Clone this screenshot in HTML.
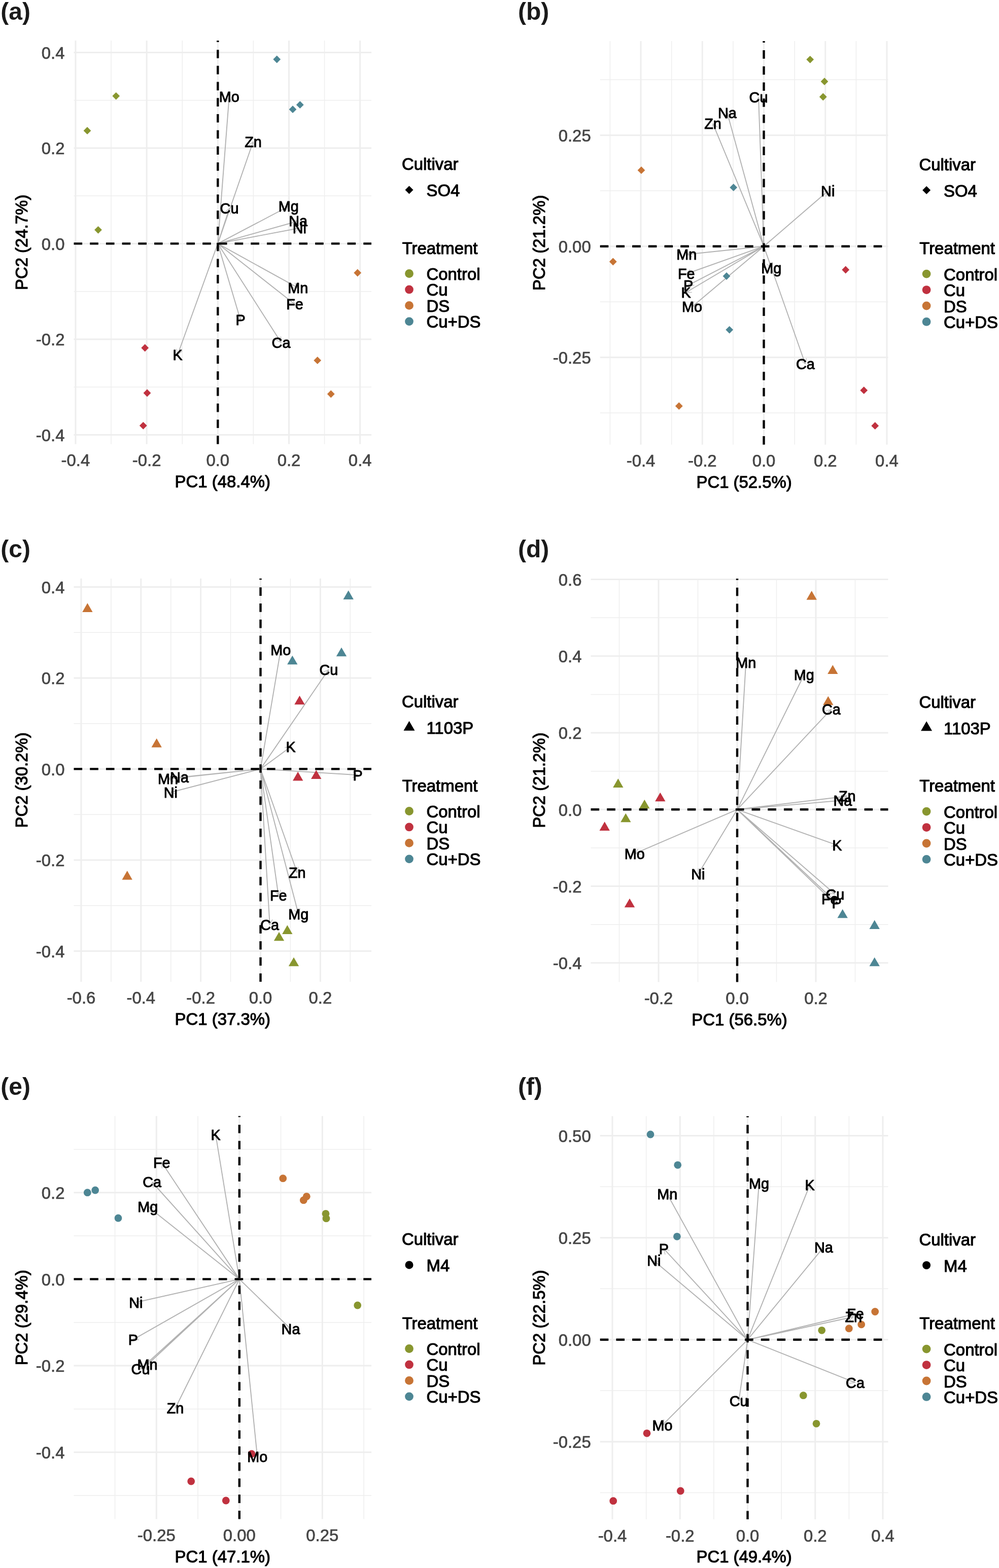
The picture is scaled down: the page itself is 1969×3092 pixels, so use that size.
<!DOCTYPE html>
<html lang="en">
<head>
<meta charset="utf-8">
<title>PCA biplots</title>
<style>
html,body{margin:0;padding:0;background:#fff;}
body{width:1969px;height:3092px;overflow:hidden;}
svg{display:block;font-family:"Liberation Sans",Arial,Helvetica,sans-serif;}
text{stroke-width:1.1px;stroke-linejoin:round;}
.tk text{stroke-width:0.7px;}
.lb text{stroke-width:1px;}
</style>
</head>
<body>
<svg width="1969" height="3092" viewBox="0 0 1969 3092">
<rect width="1969" height="3092" fill="#fff"/>
<g>
<text x="1.3" y="39.1" font-size="48" font-weight="bold" fill="#1a1a1a" stroke="none">(a)</text>
<path d="M219 80V875.8M359.2 80V875.8M499.4 80V875.8M639.6 80V875.8M145.5 197.65H732M145.5 386.15H732M145.5 574.65H732M145.5 763.15H732" stroke="#EEEEEE" stroke-width="1.5" fill="none"/>
<path d="M148.9 80V875.8M289.1 80V875.8M429.3 80V875.8M569.5 80V875.8M709.7 80V875.8M145.5 103.4H732M145.5 291.9H732M145.5 480.4H732M145.5 668.9H732M145.5 857.4H732" stroke="#EEEEEE" stroke-width="3.0" fill="none"/>
<path d="M429.3 480.4L451.7 191M429.3 480.4L499 279.3M429.3 480.4L452 411M429.3 480.4L568.7 407M429.3 480.4L587.7 436M429.3 480.4L590.3 449.7M429.3 480.4L587.3 567.7M429.3 480.4L581 600M429.3 480.4L474 631M429.3 480.4L554 675.3M429.3 480.4L350 699.7" stroke="#B2B2B2" stroke-width="1.9" fill="none"/>
<path d="M456.79 201.64L451.7 191M445.03 200.73L451.7 191M501.23 290.89L499 279.3M490.08 287.02L499 279.3M454.43 422.55L452 411M443.22 418.88L452 411M562.41 416.98L568.7 407M556.91 406.54L568.7 407M579.45 444.44L587.7 436M576.27 433.08L587.7 436M581.37 457.41L590.3 449.7M579.16 445.82L590.3 449.7M575.5 567.92L587.3 567.7M581.21 557.59L587.3 567.7M569.32 598.31L581 600M576.63 589.04L581 600M465.44 622.88L474 631M476.75 619.52L474 631M543.52 669.87L554 675.3M553.46 663.51L554 675.3M347.93 688.08L350 699.7M359.02 692.1L350 699.7" stroke="#C2C2C2" stroke-width="1.4" fill="none"/>
<path d="M145.5 480.4H732M429.3 875.8V80" stroke="#000" stroke-width="4.4" stroke-dasharray="16.6 15.11" fill="none"/>
<path d="M228.7 181.9L236.1 189.3L228.7 196.7L221.3 189.3Z" fill="#88962F" stroke="none"/>
<path d="M172 250.3L179.4 257.7L172 265.1L164.6 257.7Z" fill="#88962F" stroke="none"/>
<path d="M193.5 445.9L200.9 453.3L193.5 460.7L186.1 453.3Z" fill="#88962F" stroke="none"/>
<path d="M545.7 109.6L553.1 117L545.7 124.4L538.3 117Z" fill="#4D8694" stroke="none"/>
<path d="M591.3 199.3L598.7 206.7L591.3 214.1L583.9 206.7Z" fill="#4D8694" stroke="none"/>
<path d="M577 208.3L584.4 215.7L577 223.1L569.6 215.7Z" fill="#4D8694" stroke="none"/>
<path d="M704.7 530.6L712.1 538L704.7 545.4L697.3 538Z" fill="#C77435" stroke="none"/>
<path d="M625.7 703.3L633.1 710.7L625.7 718.1L618.3 710.7Z" fill="#C77435" stroke="none"/>
<path d="M652.3 769.6L659.7 777L652.3 784.4L644.9 777Z" fill="#C77435" stroke="none"/>
<path d="M285.7 678.6L293.1 686L285.7 693.4L278.3 686Z" fill="#C0313F" stroke="none"/>
<path d="M290 767.6L297.4 775L290 782.4L282.6 775Z" fill="#C0313F" stroke="none"/>
<path d="M282.3 831.9L289.7 839.3L282.3 846.7L274.9 839.3Z" fill="#C0313F" stroke="none"/>
<g class="lb" font-size="28.8" text-anchor="middle" fill="#000" stroke="#000">
<text transform="translate(451.7 201.3) scale(1 1.035)">Mo</text>
<text transform="translate(499 289.6) scale(1 1.035)">Zn</text>
<text transform="translate(452 421.3) scale(1 1.035)">Cu</text>
<text transform="translate(568.7 417.3) scale(1 1.035)">Mg</text>
<text transform="translate(587.7 446.3) scale(1 1.035)">Na</text>
<text transform="translate(590.3 460) scale(1 1.035)">Ni</text>
<text transform="translate(587.3 578) scale(1 1.035)">Mn</text>
<text transform="translate(581 610.3) scale(1 1.035)">Fe</text>
<text transform="translate(474 641.3) scale(1 1.035)">P</text>
<text transform="translate(554 685.6) scale(1 1.035)">Ca</text>
<text transform="translate(350 710) scale(1 1.035)">K</text>
</g>
<g class="tk" font-size="32.9" fill="#464646" stroke="#464646">
<g text-anchor="end">
<text transform="translate(127.5 115.7) scale(1 1.035)">0.4</text>
<text transform="translate(127.5 304.2) scale(1 1.035)">0.2</text>
<text transform="translate(127.5 492.7) scale(1 1.035)">0.0</text>
<text transform="translate(127.5 681.2) scale(1 1.035)">-0.2</text>
<text transform="translate(127.5 869.7) scale(1 1.035)">-0.4</text>
</g><g text-anchor="middle">
<text transform="translate(148.9 919.4) scale(1 1.035)">-0.4</text>
<text transform="translate(289.1 919.4) scale(1 1.035)">-0.2</text>
<text transform="translate(429.3 919.4) scale(1 1.035)">0.0</text>
<text transform="translate(569.5 919.4) scale(1 1.035)">0.2</text>
<text transform="translate(709.7 919.4) scale(1 1.035)">0.4</text>
</g></g>
<g font-size="32.9" fill="#000" stroke="#000" text-anchor="middle">
<text transform="translate(438.75 961.2) scale(1 1.035)">PC1 (48.4%)</text>
<text transform="translate(53.9 477.9) rotate(-90) scale(1 1.035)">PC2 (24.7%)</text>
</g>
<g font-size="32.9" fill="#000" stroke="#000">
<text transform="translate(791.9 335.4) scale(1 1.035)">Cultivar</text>
<path d="M806.5 366.4L814.5 374.4L806.5 382.4L798.5 374.4Z" fill="#000" stroke="none"/>
<text transform="translate(840.5 387) scale(1 1.035)">SO4</text>
<text transform="translate(792.7 500.5) scale(1 1.035)">Treatment</text>
<circle cx="806.5" cy="539.5" r="8.4" fill="#88962F" stroke="none"/>
<text transform="translate(840.5 552) scale(1 1.035)">Control</text>
<circle cx="806.5" cy="570.95" r="8.4" fill="#C0313F" stroke="none"/>
<text transform="translate(840.5 583.45) scale(1 1.035)">Cu</text>
<circle cx="806.5" cy="602.4" r="8.4" fill="#C77435" stroke="none"/>
<text transform="translate(840.5 614.9) scale(1 1.035)">DS</text>
<circle cx="806.5" cy="633.85" r="8.4" fill="#4D8694" stroke="none"/>
<text transform="translate(840.5 646.35) scale(1 1.035)">Cu+DS</text>
</g>
</g>
<g>
<text x="1020.9" y="39.1" font-size="48" font-weight="bold" fill="#1a1a1a" stroke="none">(b)</text>
<path d="M1202.4 80.9V876.7M1323.64 80.9V876.7M1444.88 80.9V876.7M1566.12 80.9V876.7M1687.36 80.9V876.7M1182.7 157.2H1750.5M1182.7 376.2H1750.5M1182.7 595.2H1750.5M1182.7 814.2H1750.5" stroke="#EEEEEE" stroke-width="1.5" fill="none"/>
<path d="M1263.02 80.9V876.7M1384.26 80.9V876.7M1505.5 80.9V876.7M1626.74 80.9V876.7M1747.98 80.9V876.7M1182.7 266.7H1750.5M1182.7 485.7H1750.5M1182.7 704.7H1750.5" stroke="#EEEEEE" stroke-width="3.0" fill="none"/>
<path d="M1505.5 485.7L1495 192M1505.5 485.7L1433.3 222.3M1505.5 485.7L1405 243.7M1505.5 485.7L1631.7 376.7M1505.5 485.7L1353.3 501.7M1505.5 485.7L1352.7 540M1505.5 485.7L1356.7 562.3M1505.5 485.7L1352 576.7M1505.5 485.7L1364 605M1505.5 485.7L1520.3 528.3M1505.5 485.7L1587.3 718" stroke="#B2B2B2" stroke-width="1.9" fill="none"/>
<path d="M1501.26 202L1495 192M1489.47 202.42L1495 192M1441.69 230.6L1433.3 222.3M1430.31 233.72L1433.3 222.3M1414.37 250.87L1405 243.7M1403.47 255.4L1405 243.7M1627.82 387.84L1631.7 376.7M1620.11 378.91L1631.7 376.7M1362.85 494.76L1353.3 501.7M1364.08 506.5L1353.3 501.7M1360.35 531.02L1352.7 540M1364.3 542.14L1352.7 540M1363.09 552.38L1356.7 562.3M1368.49 562.87L1356.7 562.3M1357.78 566.41L1352 576.7M1363.8 576.56L1352 576.7M1368.01 593.9L1364 605M1375.62 602.92L1364 605M1511.37 520.58L1520.3 528.3M1522.52 516.71L1520.3 528.3M1578.34 710.32L1587.3 718M1589.47 706.4L1587.3 718" stroke="#C2C2C2" stroke-width="1.4" fill="none"/>
<path d="M1182.7 485.7H1750.5M1505.5 876.7V80.9" stroke="#000" stroke-width="4.4" stroke-dasharray="16.6 15.11" fill="none"/>
<path d="M1264 328.3L1271.4 335.7L1264 343.1L1256.6 335.7Z" fill="#C77435" stroke="none"/>
<path d="M1208.3 508.6L1215.7 516L1208.3 523.4L1200.9 516Z" fill="#C77435" stroke="none"/>
<path d="M1338.3 793.3L1345.7 800.7L1338.3 808.1L1330.9 800.7Z" fill="#C77435" stroke="none"/>
<path d="M1445.7 362.3L1453.1 369.7L1445.7 377.1L1438.3 369.7Z" fill="#4D8694" stroke="none"/>
<path d="M1432 537.1L1439.4 544.5L1432 551.9L1424.6 544.5Z" fill="#4D8694" stroke="none"/>
<path d="M1437.7 642.9L1445.1 650.3L1437.7 657.7L1430.3 650.3Z" fill="#4D8694" stroke="none"/>
<path d="M1596.7 109.9L1604.1 117.3L1596.7 124.7L1589.3 117.3Z" fill="#88962F" stroke="none"/>
<path d="M1625 153.3L1632.4 160.7L1625 168.1L1617.6 160.7Z" fill="#88962F" stroke="none"/>
<path d="M1622.3 183.6L1629.7 191L1622.3 198.4L1614.9 191Z" fill="#88962F" stroke="none"/>
<path d="M1666.7 524.6L1674.1 532L1666.7 539.4L1659.3 532Z" fill="#C0313F" stroke="none"/>
<path d="M1702.7 762.3L1710.1 769.7L1702.7 777.1L1695.3 769.7Z" fill="#C0313F" stroke="none"/>
<path d="M1724.7 832.3L1732.1 839.7L1724.7 847.1L1717.3 839.7Z" fill="#C0313F" stroke="none"/>
<g class="lb" font-size="28.8" text-anchor="middle" fill="#000" stroke="#000">
<text transform="translate(1495 202.3) scale(1 1.035)">Cu</text>
<text transform="translate(1433.3 232.6) scale(1 1.035)">Na</text>
<text transform="translate(1405 254) scale(1 1.035)">Zn</text>
<text transform="translate(1631.7 387) scale(1 1.035)">Ni</text>
<text transform="translate(1353.3 512) scale(1 1.035)">Mn</text>
<text transform="translate(1352.7 550.3) scale(1 1.035)">Fe</text>
<text transform="translate(1356.7 572.6) scale(1 1.035)">P</text>
<text transform="translate(1352 587) scale(1 1.035)">K</text>
<text transform="translate(1364 615.3) scale(1 1.035)">Mo</text>
<text transform="translate(1520.3 538.6) scale(1 1.035)">Mg</text>
<text transform="translate(1587.3 728.3) scale(1 1.035)">Ca</text>
</g>
<g class="tk" font-size="32.9" fill="#464646" stroke="#464646">
<g text-anchor="end">
<text transform="translate(1164.7 279) scale(1 1.035)">0.25</text>
<text transform="translate(1164.7 498) scale(1 1.035)">0.00</text>
<text transform="translate(1164.7 717) scale(1 1.035)">-0.25</text>
</g><g text-anchor="middle">
<text transform="translate(1263.02 920.1) scale(1 1.035)">-0.4</text>
<text transform="translate(1384.26 920.1) scale(1 1.035)">-0.2</text>
<text transform="translate(1505.5 920.1) scale(1 1.035)">0.0</text>
<text transform="translate(1626.74 920.1) scale(1 1.035)">0.2</text>
<text transform="translate(1747.98 920.1) scale(1 1.035)">0.4</text>
</g></g>
<g font-size="32.9" fill="#000" stroke="#000" text-anchor="middle">
<text transform="translate(1466.6 961.7) scale(1 1.035)">PC1 (52.5%)</text>
<text transform="translate(1073.5 478.8) rotate(-90) scale(1 1.035)">PC2 (21.2%)</text>
</g>
<g font-size="32.9" fill="#000" stroke="#000">
<text transform="translate(1811.5 336) scale(1 1.035)">Cultivar</text>
<path d="M1826.1 367L1834.1 375L1826.1 383L1818.1 375Z" fill="#000" stroke="none"/>
<text transform="translate(1860.1 387.6) scale(1 1.035)">SO4</text>
<text transform="translate(1812.3 501.1) scale(1 1.035)">Treatment</text>
<circle cx="1826.1" cy="540.1" r="8.4" fill="#88962F" stroke="none"/>
<text transform="translate(1860.1 552.6) scale(1 1.035)">Control</text>
<circle cx="1826.1" cy="571.55" r="8.4" fill="#C0313F" stroke="none"/>
<text transform="translate(1860.1 584.05) scale(1 1.035)">Cu</text>
<circle cx="1826.1" cy="603" r="8.4" fill="#C77435" stroke="none"/>
<text transform="translate(1860.1 615.5) scale(1 1.035)">DS</text>
<circle cx="1826.1" cy="634.45" r="8.4" fill="#4D8694" stroke="none"/>
<text transform="translate(1860.1 646.95) scale(1 1.035)">Cu+DS</text>
</g>
</g>
<g>
<text x="1.3" y="1099.1" font-size="48" font-weight="bold" fill="#1a1a1a" stroke="none">(c)</text>
<path d="M218.9 1140.8V1936M336.74 1140.8V1936M454.58 1140.8V1936M572.42 1140.8V1936M690.26 1140.8V1936M145.5 1247.15H732M145.5 1426.65H732M145.5 1606.15H732M145.5 1785.65H732" stroke="#EEEEEE" stroke-width="1.5" fill="none"/>
<path d="M159.98 1140.8V1936M277.82 1140.8V1936M395.66 1140.8V1936M513.5 1140.8V1936M631.34 1140.8V1936M145.5 1157.4H732M145.5 1336.9H732M145.5 1516.4H732M145.5 1695.9H732M145.5 1875.4H732" stroke="#EEEEEE" stroke-width="3.0" fill="none"/>
<path d="M513.5 1516.4L553.2 1281.7M513.5 1516.4L647.8 1320.3M513.5 1516.4L573 1472.7M513.5 1516.4L705 1528.3M513.5 1516.4L331 1536M513.5 1516.4L353.5 1533M513.5 1516.4L336.3 1562.5M513.5 1516.4L585.8 1721M513.5 1516.4L548.7 1765.7M513.5 1516.4L588.3 1802.7M513.5 1516.4L531.7 1823.7" stroke="#B2B2B2" stroke-width="1.9" fill="none"/>
<path d="M557.31 1292.76L553.2 1281.7M545.68 1290.79L553.2 1281.7M646.89 1332.07L647.8 1320.3M637.16 1325.4L647.8 1320.3M568.26 1483.5L573 1472.7M561.27 1473.99L573 1472.7M694.43 1533.55L705 1528.3M695.17 1521.78L705 1528.3M340.53 1529.04L331 1536M341.79 1540.78L331 1536M363.06 1526.08L353.5 1533M364.27 1537.81L353.5 1533M344.7 1554.22L336.3 1562.5M347.68 1565.64L336.3 1562.5M576.83 1713.33L585.8 1721M587.96 1709.4L585.8 1721M541.43 1756.41L548.7 1765.7M553.11 1754.76L548.7 1765.7M580.01 1794.3L588.3 1802.7M591.43 1791.32L588.3 1802.7M525.21 1813.85L531.7 1823.7M536.99 1813.15L531.7 1823.7" stroke="#C2C2C2" stroke-width="1.4" fill="none"/>
<path d="M145.5 1516.4H732M513.5 1936V1140.8" stroke="#000" stroke-width="4.4" stroke-dasharray="16.6 15.11" fill="none"/>
<path d="M172.4 1189.33L182.59 1206.98L162.21 1206.98Z" fill="#C77435" stroke="none"/>
<path d="M308.7 1456.03L318.89 1473.68L298.51 1473.68Z" fill="#C77435" stroke="none"/>
<path d="M250.7 1717.03L260.89 1734.68L240.51 1734.68Z" fill="#C77435" stroke="none"/>
<path d="M686.7 1164.33L696.89 1181.98L676.51 1181.98Z" fill="#4D8694" stroke="none"/>
<path d="M673 1276.63L683.19 1294.28L662.81 1294.28Z" fill="#4D8694" stroke="none"/>
<path d="M576.3 1292.63L586.49 1310.28L566.11 1310.28Z" fill="#4D8694" stroke="none"/>
<path d="M590.5 1371.63L600.69 1389.28L580.31 1389.28Z" fill="#C0313F" stroke="none"/>
<path d="M587.2 1521.83L597.39 1539.48L577.01 1539.48Z" fill="#C0313F" stroke="none"/>
<path d="M623.2 1518.43L633.39 1536.08L613.01 1536.08Z" fill="#C0313F" stroke="none"/>
<path d="M566.3 1824.33L576.49 1841.98L556.11 1841.98Z" fill="#88962F" stroke="none"/>
<path d="M550 1837.63L560.19 1855.28L539.81 1855.28Z" fill="#88962F" stroke="none"/>
<path d="M579 1887.63L589.19 1905.28L568.81 1905.28Z" fill="#88962F" stroke="none"/>
<g class="lb" font-size="28.8" text-anchor="middle" fill="#000" stroke="#000">
<text transform="translate(553.2 1292) scale(1 1.035)">Mo</text>
<text transform="translate(647.8 1330.6) scale(1 1.035)">Cu</text>
<text transform="translate(573 1483) scale(1 1.035)">K</text>
<text transform="translate(705 1538.6) scale(1 1.035)">P</text>
<text transform="translate(331 1546.3) scale(1 1.035)">Mn</text>
<text transform="translate(353.5 1543.3) scale(1 1.035)">Na</text>
<text transform="translate(336.3 1572.8) scale(1 1.035)">Ni</text>
<text transform="translate(585.8 1731.3) scale(1 1.035)">Zn</text>
<text transform="translate(548.7 1776) scale(1 1.035)">Fe</text>
<text transform="translate(588.3 1813) scale(1 1.035)">Mg</text>
<text transform="translate(531.7 1834) scale(1 1.035)">Ca</text>
</g>
<g class="tk" font-size="32.9" fill="#464646" stroke="#464646">
<g text-anchor="end">
<text transform="translate(127.5 1169.7) scale(1 1.035)">0.4</text>
<text transform="translate(127.5 1349.2) scale(1 1.035)">0.2</text>
<text transform="translate(127.5 1528.7) scale(1 1.035)">0.0</text>
<text transform="translate(127.5 1708.2) scale(1 1.035)">-0.2</text>
<text transform="translate(127.5 1887.7) scale(1 1.035)">-0.4</text>
</g><g text-anchor="middle">
<text transform="translate(159.98 1979.4) scale(1 1.035)">-0.6</text>
<text transform="translate(277.82 1979.4) scale(1 1.035)">-0.4</text>
<text transform="translate(395.66 1979.4) scale(1 1.035)">-0.2</text>
<text transform="translate(513.5 1979.4) scale(1 1.035)">0.0</text>
<text transform="translate(631.34 1979.4) scale(1 1.035)">0.2</text>
</g></g>
<g font-size="32.9" fill="#000" stroke="#000" text-anchor="middle">
<text transform="translate(438.75 2021.2) scale(1 1.035)">PC1 (37.3%)</text>
<text transform="translate(53.9 1538.4) rotate(-90) scale(1 1.035)">PC2 (30.2%)</text>
</g>
<g font-size="32.9" fill="#000" stroke="#000">
<text transform="translate(791.9 1395.4) scale(1 1.035)">Cultivar</text>
<path d="M806.5 1421.68L817.52 1440.76L795.48 1440.76Z" fill="#000" stroke="none"/>
<text transform="translate(840.5 1447) scale(1 1.035)">1103P</text>
<text transform="translate(792.7 1560.5) scale(1 1.035)">Treatment</text>
<circle cx="806.5" cy="1599.5" r="8.4" fill="#88962F" stroke="none"/>
<text transform="translate(840.5 1612) scale(1 1.035)">Control</text>
<circle cx="806.5" cy="1630.95" r="8.4" fill="#C0313F" stroke="none"/>
<text transform="translate(840.5 1643.45) scale(1 1.035)">Cu</text>
<circle cx="806.5" cy="1662.4" r="8.4" fill="#C77435" stroke="none"/>
<text transform="translate(840.5 1674.9) scale(1 1.035)">DS</text>
<circle cx="806.5" cy="1693.85" r="8.4" fill="#4D8694" stroke="none"/>
<text transform="translate(840.5 1706.35) scale(1 1.035)">Cu+DS</text>
</g>
</g>
<g>
<text x="1020.9" y="1099.1" font-size="48" font-weight="bold" fill="#1a1a1a" stroke="none">(d)</text>
<path d="M1220.5 1141V1936.4M1375.5 1141V1936.4M1530.5 1141V1936.4M1685.5 1141V1936.4M1164.5 1218.1H1750.5M1164.5 1369.38H1750.5M1164.5 1520.66H1750.5M1164.5 1671.94H1750.5M1164.5 1823.22H1750.5" stroke="#EEEEEE" stroke-width="1.5" fill="none"/>
<path d="M1298 1141V1936.4M1453 1141V1936.4M1608 1141V1936.4M1164.5 1142.46H1750.5M1164.5 1293.74H1750.5M1164.5 1445.02H1750.5M1164.5 1596.3H1750.5M1164.5 1747.58H1750.5M1164.5 1898.86H1750.5" stroke="#EEEEEE" stroke-width="3.0" fill="none"/>
<path d="M1453 1596.3L1470.2 1306.2M1453 1596.3L1584.7 1331M1453 1596.3L1638.3 1398.7M1453 1596.3L1669.8 1570M1453 1596.3L1660.8 1578.3M1453 1596.3L1649.8 1666.7M1453 1596.3L1645.8 1763.3M1453 1596.3L1635.7 1772.3M1453 1596.3L1649 1780.3M1453 1596.3L1250.8 1683.3M1453 1596.3L1375.8 1724" stroke="#B2B2B2" stroke-width="1.9" fill="none"/>
<path d="M1475.48 1316.75L1470.2 1306.2M1463.71 1316.05L1470.2 1306.2M1585.44 1342.78L1584.7 1331M1574.87 1337.53L1584.7 1331M1635.61 1410.19L1638.3 1398.7M1627.01 1402.12L1638.3 1398.7M1660.37 1577.09L1669.8 1570M1658.94 1565.37L1669.8 1570M1651.13 1585.06L1660.8 1578.3M1650.11 1573.3L1660.8 1578.3M1638.19 1668.81L1649.8 1666.7M1642.17 1657.7L1649.8 1666.7M1634.21 1761.07L1645.8 1763.3M1641.94 1752.15L1645.8 1763.3M1624.25 1769.46L1635.7 1772.3M1632.43 1760.96L1635.7 1772.3M1637.51 1777.61L1649 1780.3M1645.59 1769L1649 1780.3M1257.86 1673.84L1250.8 1683.3M1262.52 1684.68L1250.8 1683.3M1376.04 1712.2L1375.8 1724M1386.14 1718.31L1375.8 1724" stroke="#C2C2C2" stroke-width="1.4" fill="none"/>
<path d="M1164.5 1596.3H1750.5M1453 1936.4V1141" stroke="#000" stroke-width="4.4" stroke-dasharray="16.6 15.11" fill="none"/>
<path d="M1599.7 1165.03L1609.89 1182.68L1589.51 1182.68Z" fill="#C77435" stroke="none"/>
<path d="M1641.3 1311.33L1651.49 1328.98L1631.11 1328.98Z" fill="#C77435" stroke="none"/>
<path d="M1632.3 1372.63L1642.49 1390.28L1622.11 1390.28Z" fill="#C77435" stroke="none"/>
<path d="M1218.3 1535.33L1228.49 1552.98L1208.11 1552.98Z" fill="#88962F" stroke="none"/>
<path d="M1270.3 1576.63L1280.49 1594.28L1260.11 1594.28Z" fill="#88962F" stroke="none"/>
<path d="M1233.3 1603.63L1243.49 1621.28L1223.11 1621.28Z" fill="#88962F" stroke="none"/>
<path d="M1301.3 1562.63L1311.49 1580.28L1291.11 1580.28Z" fill="#C0313F" stroke="none"/>
<path d="M1191.7 1620.33L1201.89 1637.98L1181.51 1637.98Z" fill="#C0313F" stroke="none"/>
<path d="M1241 1771.63L1251.19 1789.28L1230.81 1789.28Z" fill="#C0313F" stroke="none"/>
<path d="M1660.7 1792.63L1670.89 1810.28L1650.51 1810.28Z" fill="#4D8694" stroke="none"/>
<path d="M1723.7 1814.33L1733.89 1831.98L1713.51 1831.98Z" fill="#4D8694" stroke="none"/>
<path d="M1723.7 1887.63L1733.89 1905.28L1713.51 1905.28Z" fill="#4D8694" stroke="none"/>
<g class="lb" font-size="28.8" text-anchor="middle" fill="#000" stroke="#000">
<text transform="translate(1470.2 1316.5) scale(1 1.035)">Mn</text>
<text transform="translate(1584.7 1341.3) scale(1 1.035)">Mg</text>
<text transform="translate(1638.3 1409) scale(1 1.035)">Ca</text>
<text transform="translate(1669.8 1580.3) scale(1 1.035)">Zn</text>
<text transform="translate(1660.8 1588.6) scale(1 1.035)">Na</text>
<text transform="translate(1649.8 1677) scale(1 1.035)">K</text>
<text transform="translate(1645.8 1773.6) scale(1 1.035)">Cu</text>
<text transform="translate(1635.7 1782.6) scale(1 1.035)">Fe</text>
<text transform="translate(1649 1790.6) scale(1 1.035)">P</text>
<text transform="translate(1250.8 1693.6) scale(1 1.035)">Mo</text>
<text transform="translate(1375.8 1734.3) scale(1 1.035)">Ni</text>
</g>
<g class="tk" font-size="32.9" fill="#464646" stroke="#464646">
<g text-anchor="end">
<text transform="translate(1146.5 1154.76) scale(1 1.035)">0.6</text>
<text transform="translate(1146.5 1306.04) scale(1 1.035)">0.4</text>
<text transform="translate(1146.5 1457.32) scale(1 1.035)">0.2</text>
<text transform="translate(1146.5 1608.6) scale(1 1.035)">0.0</text>
<text transform="translate(1146.5 1759.88) scale(1 1.035)">-0.2</text>
<text transform="translate(1146.5 1911.16) scale(1 1.035)">-0.4</text>
</g><g text-anchor="middle">
<text transform="translate(1298 1980.1) scale(1 1.035)">-0.2</text>
<text transform="translate(1453 1980.1) scale(1 1.035)">0.0</text>
<text transform="translate(1608 1980.1) scale(1 1.035)">0.2</text>
</g></g>
<g font-size="32.9" fill="#000" stroke="#000" text-anchor="middle">
<text transform="translate(1457.5 2021.7) scale(1 1.035)">PC1 (56.5%)</text>
<text transform="translate(1073.5 1538.7) rotate(-90) scale(1 1.035)">PC2 (21.2%)</text>
</g>
<g font-size="32.9" fill="#000" stroke="#000">
<text transform="translate(1811.5 1396) scale(1 1.035)">Cultivar</text>
<path d="M1826.1 1422.28L1837.12 1441.36L1815.08 1441.36Z" fill="#000" stroke="none"/>
<text transform="translate(1860.1 1447.6) scale(1 1.035)">1103P</text>
<text transform="translate(1812.3 1561.1) scale(1 1.035)">Treatment</text>
<circle cx="1826.1" cy="1600.1" r="8.4" fill="#88962F" stroke="none"/>
<text transform="translate(1860.1 1612.6) scale(1 1.035)">Control</text>
<circle cx="1826.1" cy="1631.55" r="8.4" fill="#C0313F" stroke="none"/>
<text transform="translate(1860.1 1644.05) scale(1 1.035)">Cu</text>
<circle cx="1826.1" cy="1663" r="8.4" fill="#C77435" stroke="none"/>
<text transform="translate(1860.1 1675.5) scale(1 1.035)">DS</text>
<circle cx="1826.1" cy="1694.45" r="8.4" fill="#4D8694" stroke="none"/>
<text transform="translate(1860.1 1706.95) scale(1 1.035)">Cu+DS</text>
</g>
</g>
<g>
<text x="1.3" y="2159.1" font-size="48" font-weight="bold" fill="#1a1a1a" stroke="none">(e)</text>
<path d="M226.55 2200.8V2995.6M390.05 2200.8V2995.6M553.55 2200.8V2995.6M717.05 2200.8V2995.6M145.5 2266.38H732M145.5 2437.06H732M145.5 2607.74H732M145.5 2778.42H732M145.5 2949.1H732" stroke="#EEEEEE" stroke-width="1.5" fill="none"/>
<path d="M308.3 2200.8V2995.6M471.8 2200.8V2995.6M635.3 2200.8V2995.6M145.5 2351.72H732M145.5 2522.4H732M145.5 2693.08H732M145.5 2863.76H732" stroke="#EEEEEE" stroke-width="3.0" fill="none"/>
<path d="M471.8 2522.4L425 2237.3M471.8 2522.4L318.7 2292.3M471.8 2522.4L299.7 2331M471.8 2522.4L291.3 2379.3M471.8 2522.4L267.8 2568.3M471.8 2522.4L262.3 2641.7M471.8 2522.4L290.5 2691M471.8 2522.4L277 2699.7M471.8 2522.4L345.5 2777M471.8 2522.4L507.2 2873M471.8 2522.4L573 2620.7" stroke="#B2B2B2" stroke-width="1.9" fill="none"/>
<path d="M432.48 2246.43L425 2237.3M420.83 2248.34L425 2237.3M329.27 2297.54L318.7 2292.3M319.45 2304.08L318.7 2292.3M310.92 2334.65L299.7 2331M302.15 2342.54L299.7 2331M302.97 2381.03L291.3 2379.3M295.64 2390.27L291.3 2379.3M276.47 2560.3L267.8 2568.3M279.06 2571.81L267.8 2568.3M268.26 2631.52L262.3 2641.7M274.1 2641.77L262.3 2641.7M293.97 2679.72L290.5 2691M302 2688.36L290.5 2691M280.59 2688.46L277 2699.7M288.53 2697.18L277 2699.7M344.76 2765.22L345.5 2777M355.33 2770.47L345.5 2777M500.3 2863.43L507.2 2873M512.04 2862.24L507.2 2873M561.56 2617.81L573 2620.7M569.78 2609.35L573 2620.7" stroke="#C2C2C2" stroke-width="1.4" fill="none"/>
<path d="M145.5 2522.4H732M471.8 2995.6V2200.8" stroke="#000" stroke-width="4.4" stroke-dasharray="16.6 15.11" fill="none"/>
<circle cx="172.3" cy="2351.7" r="7.4" fill="#4D8694" stroke="none"/>
<circle cx="187.7" cy="2347" r="7.4" fill="#4D8694" stroke="none"/>
<circle cx="233" cy="2402" r="7.4" fill="#4D8694" stroke="none"/>
<circle cx="557.7" cy="2323.7" r="7.4" fill="#C77435" stroke="none"/>
<circle cx="604.3" cy="2359.3" r="7.4" fill="#C77435" stroke="none"/>
<circle cx="598.3" cy="2366.7" r="7.4" fill="#C77435" stroke="none"/>
<circle cx="642" cy="2393.3" r="7.4" fill="#88962F" stroke="none"/>
<circle cx="643" cy="2402.7" r="7.4" fill="#88962F" stroke="none"/>
<circle cx="704.7" cy="2574" r="7.4" fill="#88962F" stroke="none"/>
<circle cx="376.7" cy="2921" r="7.4" fill="#C0313F" stroke="none"/>
<circle cx="445.3" cy="2959" r="7.4" fill="#C0313F" stroke="none"/>
<circle cx="496" cy="2867" r="7.4" fill="#C0313F" stroke="none"/>
<g class="lb" font-size="28.8" text-anchor="middle" fill="#000" stroke="#000">
<text transform="translate(425 2247.6) scale(1 1.035)">K</text>
<text transform="translate(318.7 2302.6) scale(1 1.035)">Fe</text>
<text transform="translate(299.7 2341.3) scale(1 1.035)">Ca</text>
<text transform="translate(291.3 2389.6) scale(1 1.035)">Mg</text>
<text transform="translate(267.8 2578.6) scale(1 1.035)">Ni</text>
<text transform="translate(262.3 2652) scale(1 1.035)">P</text>
<text transform="translate(290.5 2701.3) scale(1 1.035)">Mn</text>
<text transform="translate(277 2710) scale(1 1.035)">Cu</text>
<text transform="translate(345.5 2787.3) scale(1 1.035)">Zn</text>
<text transform="translate(507.2 2883.3) scale(1 1.035)">Mo</text>
<text transform="translate(573 2631) scale(1 1.035)">Na</text>
</g>
<g class="tk" font-size="32.9" fill="#464646" stroke="#464646">
<g text-anchor="end">
<text transform="translate(127.5 2364.02) scale(1 1.035)">0.2</text>
<text transform="translate(127.5 2534.7) scale(1 1.035)">0.0</text>
<text transform="translate(127.5 2705.38) scale(1 1.035)">-0.2</text>
<text transform="translate(127.5 2876.06) scale(1 1.035)">-0.4</text>
</g><g text-anchor="middle">
<text transform="translate(308.3 3038.9) scale(1 1.035)">-0.25</text>
<text transform="translate(471.8 3038.9) scale(1 1.035)">0.00</text>
<text transform="translate(635.3 3038.9) scale(1 1.035)">0.25</text>
</g></g>
<g font-size="32.9" fill="#000" stroke="#000" text-anchor="middle">
<text transform="translate(438.75 3080.7) scale(1 1.035)">PC1 (47.1%)</text>
<text transform="translate(53.9 2598.2) rotate(-90) scale(1 1.035)">PC2 (29.4%)</text>
</g>
<g font-size="32.9" fill="#000" stroke="#000">
<text transform="translate(791.9 2455.4) scale(1 1.035)">Cultivar</text>
<circle cx="806.5" cy="2494.4" r="8" fill="#000" stroke="none"/>
<text transform="translate(840.5 2507) scale(1 1.035)">M4</text>
<text transform="translate(792.7 2620.5) scale(1 1.035)">Treatment</text>
<circle cx="806.5" cy="2659.5" r="8.4" fill="#88962F" stroke="none"/>
<text transform="translate(840.5 2672) scale(1 1.035)">Control</text>
<circle cx="806.5" cy="2690.95" r="8.4" fill="#C0313F" stroke="none"/>
<text transform="translate(840.5 2703.45) scale(1 1.035)">Cu</text>
<circle cx="806.5" cy="2722.4" r="8.4" fill="#C77435" stroke="none"/>
<text transform="translate(840.5 2734.9) scale(1 1.035)">DS</text>
<circle cx="806.5" cy="2753.85" r="8.4" fill="#4D8694" stroke="none"/>
<text transform="translate(840.5 2766.35) scale(1 1.035)">Cu+DS</text>
</g>
</g>
<g>
<text x="1020.9" y="2159.1" font-size="48" font-weight="bold" fill="#1a1a1a" stroke="none">(f)</text>
<path d="M1273.61 2201V2996M1406.87 2201V2996M1540.13 2201V2996M1673.39 2201V2996M1182.7 2340.11H1750.5M1182.7 2541.24H1750.5M1182.7 2742.36H1750.5M1182.7 2943.49H1750.5" stroke="#EEEEEE" stroke-width="1.5" fill="none"/>
<path d="M1206.98 2201V2996M1340.24 2201V2996M1473.5 2201V2996M1606.76 2201V2996M1740.02 2201V2996M1182.7 2239.55H1750.5M1182.7 2440.68H1750.5M1182.7 2641.8H1750.5M1182.7 2842.93H1750.5" stroke="#EEEEEE" stroke-width="3.0" fill="none"/>
<path d="M1473.5 2641.8L1315.3 2355M1473.5 2641.8L1308.3 2462.3M1473.5 2641.8L1288.8 2486M1473.5 2641.8L1496 2333.3M1473.5 2641.8L1596.2 2336.7M1473.5 2641.8L1623.3 2459.3M1473.5 2641.8L1686 2591M1473.5 2641.8L1682.3 2596.8M1473.5 2641.8L1685.5 2726.3M1473.5 2641.8L1456.2 2763M1473.5 2641.8L1305.5 2810.3" stroke="#B2B2B2" stroke-width="1.9" fill="none"/>
<path d="M1325.4 2361.1L1315.3 2355M1315.07 2366.8L1315.3 2355M1319.56 2465.82L1308.3 2462.3M1310.88 2473.81L1308.3 2462.3M1300.42 2488.08L1288.8 2486M1292.81 2497.1L1288.8 2486M1501.14 2343.92L1496 2333.3M1489.37 2343.06L1496 2333.3M1597.86 2348.38L1596.2 2336.7M1586.91 2343.98L1596.2 2336.7M1621.38 2470.94L1623.3 2459.3M1612.26 2463.46L1623.3 2459.3M1677.43 2599.11L1686 2591M1674.69 2587.64L1686 2591M1673.55 2604.72L1682.3 2596.8M1671.07 2593.19L1682.3 2596.8M1673.82 2728L1685.5 2726.3M1678.19 2717.04L1685.5 2726.3M1451.8 2752.05L1456.2 2763M1463.48 2753.72L1456.2 2763M1308.54 2798.9L1305.5 2810.3M1316.89 2807.23L1305.5 2810.3" stroke="#C2C2C2" stroke-width="1.4" fill="none"/>
<path d="M1182.7 2641.8H1750.5M1473.5 2996V2201" stroke="#000" stroke-width="4.4" stroke-dasharray="16.6 15.11" fill="none"/>
<circle cx="1282" cy="2237" r="7.4" fill="#4D8694" stroke="none"/>
<circle cx="1335.7" cy="2297.3" r="7.4" fill="#4D8694" stroke="none"/>
<circle cx="1334.4" cy="2438.3" r="7.4" fill="#4D8694" stroke="none"/>
<circle cx="1724.7" cy="2586.5" r="7.4" fill="#C77435" stroke="none"/>
<circle cx="1697.7" cy="2611.8" r="7.4" fill="#C77435" stroke="none"/>
<circle cx="1673.3" cy="2619.7" r="7.4" fill="#C77435" stroke="none"/>
<circle cx="1619.7" cy="2623.3" r="7.4" fill="#88962F" stroke="none"/>
<circle cx="1583.3" cy="2751.7" r="7.4" fill="#88962F" stroke="none"/>
<circle cx="1609" cy="2807.3" r="7.4" fill="#88962F" stroke="none"/>
<circle cx="1275" cy="2826.3" r="7.4" fill="#C0313F" stroke="none"/>
<circle cx="1341.3" cy="2940" r="7.4" fill="#C0313F" stroke="none"/>
<circle cx="1208.7" cy="2959.7" r="7.4" fill="#C0313F" stroke="none"/>
<g class="lb" font-size="28.8" text-anchor="middle" fill="#000" stroke="#000">
<text transform="translate(1315.3 2365.3) scale(1 1.035)">Mn</text>
<text transform="translate(1308.3 2472.6) scale(1 1.035)">P</text>
<text transform="translate(1288.8 2496.3) scale(1 1.035)">Ni</text>
<text transform="translate(1496 2343.6) scale(1 1.035)">Mg</text>
<text transform="translate(1596.2 2347) scale(1 1.035)">K</text>
<text transform="translate(1623.3 2469.6) scale(1 1.035)">Na</text>
<text transform="translate(1686 2601.3) scale(1 1.035)">Fe</text>
<text transform="translate(1682.3 2607.1) scale(1 1.035)">Zn</text>
<text transform="translate(1685.5 2736.6) scale(1 1.035)">Ca</text>
<text transform="translate(1456.2 2773.3) scale(1 1.035)">Cu</text>
<text transform="translate(1305.5 2820.6) scale(1 1.035)">Mo</text>
</g>
<g class="tk" font-size="32.9" fill="#464646" stroke="#464646">
<g text-anchor="end">
<text transform="translate(1164.7 2251.85) scale(1 1.035)">0.50</text>
<text transform="translate(1164.7 2452.98) scale(1 1.035)">0.25</text>
<text transform="translate(1164.7 2654.1) scale(1 1.035)">0.00</text>
<text transform="translate(1164.7 2855.23) scale(1 1.035)">-0.25</text>
</g><g text-anchor="middle">
<text transform="translate(1206.98 3039.6) scale(1 1.035)">-0.4</text>
<text transform="translate(1340.24 3039.6) scale(1 1.035)">-0.2</text>
<text transform="translate(1473.5 3039.6) scale(1 1.035)">0.0</text>
<text transform="translate(1606.76 3039.6) scale(1 1.035)">0.2</text>
<text transform="translate(1740.02 3039.6) scale(1 1.035)">0.4</text>
</g></g>
<g font-size="32.9" fill="#000" stroke="#000" text-anchor="middle">
<text transform="translate(1466.6 3081.2) scale(1 1.035)">PC1 (49.4%)</text>
<text transform="translate(1073.5 2598.5) rotate(-90) scale(1 1.035)">PC2 (22.5%)</text>
</g>
<g font-size="32.9" fill="#000" stroke="#000">
<text transform="translate(1811.5 2456) scale(1 1.035)">Cultivar</text>
<circle cx="1826.1" cy="2495" r="8" fill="#000" stroke="none"/>
<text transform="translate(1860.1 2507.6) scale(1 1.035)">M4</text>
<text transform="translate(1812.3 2621.1) scale(1 1.035)">Treatment</text>
<circle cx="1826.1" cy="2660.1" r="8.4" fill="#88962F" stroke="none"/>
<text transform="translate(1860.1 2672.6) scale(1 1.035)">Control</text>
<circle cx="1826.1" cy="2691.55" r="8.4" fill="#C0313F" stroke="none"/>
<text transform="translate(1860.1 2704.05) scale(1 1.035)">Cu</text>
<circle cx="1826.1" cy="2723" r="8.4" fill="#C77435" stroke="none"/>
<text transform="translate(1860.1 2735.5) scale(1 1.035)">DS</text>
<circle cx="1826.1" cy="2754.45" r="8.4" fill="#4D8694" stroke="none"/>
<text transform="translate(1860.1 2766.95) scale(1 1.035)">Cu+DS</text>
</g>
</g>
</svg>
</body>
</html>
